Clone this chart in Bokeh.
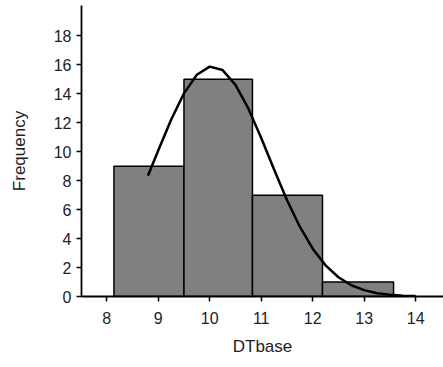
from bokeh.plotting import figure
from bokeh.models import Range1d, FixedTicker
from bokeh.embed import file_html
from bokeh.resources import INLINE

# histogram bins (edges) and frequencies
bin_left = [8.14, 9.50, 10.83, 12.19]
bin_right = [9.50, 10.83, 12.19, 13.57]
freq = [9, 15, 7, 1]

# fitted normal curve
curve_x = [8.80, 9.00, 9.25, 9.50, 9.75, 10.00, 10.25, 10.50, 10.75, 11.00,
           11.25, 11.50, 11.75, 12.00, 12.25, 12.50, 12.75, 13.00, 13.25,
           13.50, 13.75, 14.00]
curve_y = [8.34, 10.08, 12.21, 14.03, 15.32, 15.88, 15.64, 14.62, 12.99, 10.95,
           8.77, 6.67, 4.82, 3.30, 2.15, 1.33, 0.78, 0.44, 0.23,
           0.12, 0.06, 0.03]

x_ticks = [8, 9, 10, 11, 12, 13, 14]
y_ticks = [0, 2, 4, 6, 8, 10, 12, 14, 16, 18]

FONT = "Liberation Sans"

p = figure(width=443, height=367, output_backend="svg", toolbar_location=None,
           x_range=Range1d(7.51, 14.54), y_range=Range1d(0, 20.1),
           min_border_left=81, min_border_right=0, min_border_top=5,
           min_border_bottom=71)
p.outline_line_color = None
p.xgrid.grid_line_color = None
p.ygrid.grid_line_color = None
p.background_fill_color = "white"
p.border_fill_color = "white"

p.quad(left=bin_left, right=bin_right, bottom=0, top=freq,
       fill_color="#808080", line_color="black", line_width=1.5)
p.line(curve_x, curve_y, line_color="black", line_width=2.5, line_join="round")

for ax in (p.xaxis[0], p.yaxis[0]):
    ax.axis_line_color = "black"
    ax.axis_line_width = 1.8
    ax.major_tick_line_color = "black"
    ax.major_tick_line_width = 1.5
    ax.major_tick_in = 0
    ax.major_tick_out = 5
    ax.minor_tick_line_color = None
    ax.major_label_text_font = FONT
    ax.major_label_text_font_size = "16px"
    ax.major_label_text_color = "#222222"
    ax.axis_label_text_font = FONT
    ax.axis_label_text_font_size = "17px"
    ax.axis_label_text_font_style = "normal"
    ax.axis_label_text_color = "#222222"

p.xaxis.ticker = FixedTicker(ticks=x_ticks)
p.yaxis.ticker = FixedTicker(ticks=y_ticks)
p.xaxis.axis_label = "DTbase"
p.yaxis.axis_label = "Frequency"
p.xaxis.major_label_standoff = 10
p.yaxis.major_label_standoff = 5
p.xaxis.axis_label_standoff = 10
p.yaxis.axis_label_standoff = 22

open("out.html", "w").write(file_html(p, INLINE))
